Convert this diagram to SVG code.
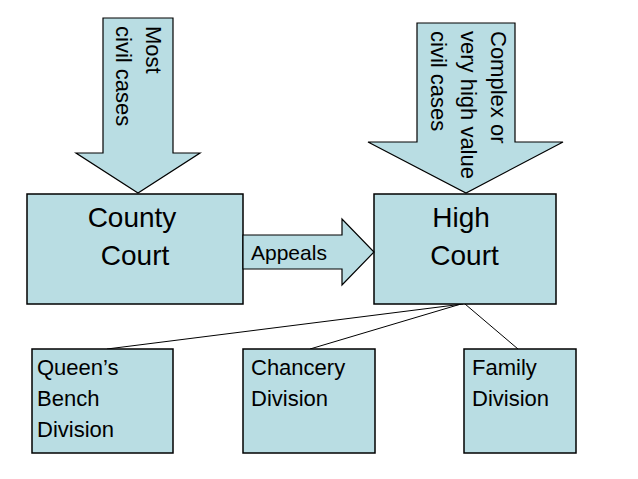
<svg xmlns="http://www.w3.org/2000/svg" width="638" height="479" viewBox="0 0 638 479">
<style>
.box{fill:#B9DDE3;stroke:#000;stroke-width:1.5}
.arr{fill:#B9DDE3;stroke:#000;stroke-width:1.2;stroke-linejoin:miter}
.t{font-family:"Liberation Sans",Arial,sans-serif;fill:#000}
.big{font-size:28px}
.mid{font-size:22px}
.con{stroke:#000;stroke-width:1;fill:none}
</style>
<rect width="638" height="479" fill="#fff"/>
<g id="connectors">
<line class="con" x1="463" y1="304" x2="107" y2="349"/>
<line class="con" x1="461" y1="304" x2="310" y2="349"/>
<line class="con" x1="465" y1="304" x2="518" y2="349"/>
</g>
<g id="county-court">
<rect class="box" x="27" y="194" width="216" height="110"/>
<text class="t big" x="132" y="227" text-anchor="middle">County</text>
<text class="t big" x="135" y="265" text-anchor="middle">Court</text>
</g>
<g id="high-court">
<rect class="box" x="374" y="194" width="182" height="110"/>
<text class="t big" x="461" y="227" text-anchor="middle">High</text>
<text class="t big" x="464.5" y="265" text-anchor="middle">Court</text>
</g>
<g id="queens-bench">
<rect class="box" x="32" y="349" width="141" height="104"/>
<text class="t mid" x="37" y="375">Queen’s</text>
<text class="t mid" x="37" y="406">Bench</text>
<text class="t mid" x="37" y="437">Division</text>
</g>
<g id="chancery">
<rect class="box" x="243" y="349" width="132" height="104"/>
<text class="t mid" x="251" y="375">Chancery</text>
<text class="t mid" x="251" y="406">Division</text>
</g>
<g id="family">
<rect class="box" x="464" y="349" width="112" height="104"/>
<text class="t mid" x="472" y="375">Family</text>
<text class="t mid" x="472" y="406">Division</text>
</g>
<g id="arrow-most">
<polygon class="arr" points="103,18 173,18 173,153 200,153 138,193 76,153 103,153"/>
<text class="t mid" transform="translate(146,26) rotate(90)">Most</text>
<text class="t mid" transform="translate(116,26) rotate(90)">civil cases</text>
</g>
<g id="arrow-complex">
<polygon class="arr" points="417,23 515,23 515,142 563,142 466,193 368,142 417,142"/>
<text class="t mid" transform="translate(491,31) rotate(90)">Complex or</text>
<text class="t mid" transform="translate(461,31) rotate(90)">very high value</text>
<text class="t mid" transform="translate(431,31) rotate(90)">civil cases</text>
</g>
<g id="arrow-appeals">
<polygon class="arr" points="243,235 342,235 342,219 374,252 342,285 342,269 243,269"/>
<text class="t" style="font-size:21px" x="251" y="260">Appeals</text>
</g>
</svg>
